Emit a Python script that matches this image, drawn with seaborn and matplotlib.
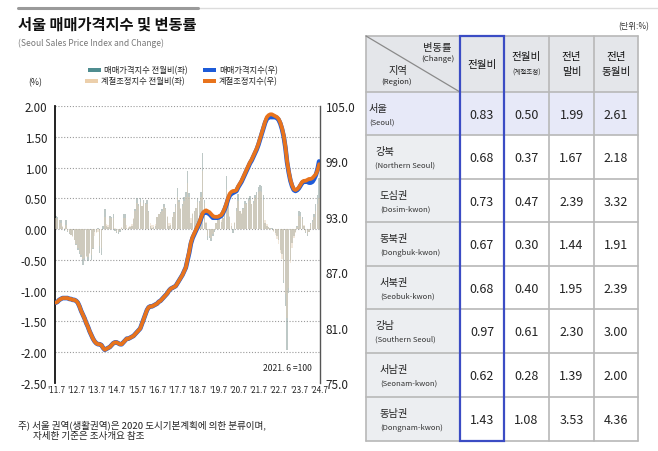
import numpy as np
import pandas as pd
import matplotlib
matplotlib.use("Agg")
import matplotlib.pyplot as plt
import seaborn as sns
from matplotlib.patches import Rectangle
from matplotlib.lines import Line2D

# ---------------- DATA ----------------
months = pd.period_range("2011-07", "2024-07", freq="M").astype(str).tolist()

mom_raw = [0.22, 0.20, 0.15, 0.14, 0.03, -0.03, 0.14, -0.05, -0.08, -0.10, -0.12, -0.18,
           -0.25, -0.34, -0.40, -0.45, -0.58, -0.50, -0.43, -0.52, -0.38, -0.50, -0.32, -0.05,
           -0.04, 0.02, -0.39, -0.42, 0.05, 0.33, 0.05, 0.03, 0.22, 0.20, 0.24, -0.03,
           -0.06, -0.08, -0.04, 0.02, 0.25, 0.24, 0.02, 0.01, 0.03, 0.05, 0.17, 0.33,
           0.50, 0.40, 0.50, 0.38, 0.47, 0.42, 0.47, 0.30, 0.05, 0.02, 0.03, 0.05,
           0.20, 0.25, 0.28, 0.33, 0.41, 0.35, 0.20, 0.05, 0.06, 0.20, 0.28, 0.41,
           0.66, 0.47, 0.33, 0.41, 0.52, 0.60, 0.95, 0.58, 0.10, 0.25, 0.30, 0.35,
           0.50, 0.45, 0.60, 1.24, 0.47, 0.10, -0.18, -0.15, -0.20, -0.12, -0.05, 0.10,
           0.15, 0.20, 0.12, 0.18, 0.35, 0.87, 0.42, 0.20, 0.05, -0.07, 0.10, 0.35,
           0.57, 0.30, 0.25, 0.35, 0.45, 0.42, 0.50, 0.53, 0.40, 0.45, 0.55, 0.60,
           0.68, 0.72, 0.70, 0.55, 0.10, 0.05, 0.03, 0.02, 0.01, -0.03, -0.07, -0.12,
           -0.18, -0.34, -0.40, -0.88, -1.25, -1.96, -1.04, -0.50, -0.23, -0.12, -0.05, 0.05,
           0.30, 0.28, 0.20, 0.05, -0.07, -0.12, -0.05, 0.10, 0.15, 0.25, 0.40, 0.55, 0.83]

mom_sa = [0.18, 0.17, 0.14, 0.10, 0.05, 0.02, 0.06, -0.03, -0.07, -0.10, -0.13, -0.18,
          -0.24, -0.30, -0.36, -0.42, -0.48, -0.47, -0.45, -0.46, -0.40, -0.42, -0.30, -0.12,
          -0.06, -0.05, -0.28, -0.30, 0.00, 0.20, 0.08, 0.06, 0.18, 0.18, 0.18, 0.02,
          -0.04, -0.05, -0.02, 0.04, 0.18, 0.18, 0.06, 0.04, 0.05, 0.08, 0.18, 0.30,
          0.42, 0.38, 0.44, 0.38, 0.42, 0.40, 0.40, 0.28, 0.10, 0.06, 0.06, 0.08,
          0.20, 0.24, 0.26, 0.30, 0.36, 0.32, 0.22, 0.10, 0.10, 0.20, 0.26, 0.36,
          0.52, 0.44, 0.34, 0.38, 0.46, 0.52, 0.75, 0.52, 0.18, 0.26, 0.30, 0.34,
          0.44, 0.42, 0.52, 0.95, 0.42, 0.12, -0.12, -0.12, -0.15, -0.08, -0.02, 0.10,
          0.14, 0.18, 0.14, 0.18, 0.30, 0.65, 0.38, 0.22, 0.10, 0.00, 0.12, 0.30,
          0.45, 0.30, 0.26, 0.32, 0.40, 0.40, 0.45, 0.48, 0.40, 0.42, 0.50, 0.55,
          0.60, 0.62, 0.60, 0.48, 0.15, 0.08, 0.04, 0.02, 0.00, -0.05, -0.10, -0.16,
          -0.24, -0.38, -0.48, -0.82, -1.05, -1.45, -0.95, -0.55, -0.30, -0.15, -0.06, 0.04,
          0.22, 0.22, 0.16, 0.06, -0.04, -0.08, -0.04, 0.08, 0.12, 0.20, 0.30, 0.40, 0.50]

idx_sa = [83.7, 83.8, 84.0, 84.1, 84.2, 84.2, 84.2, 84.2, 84.1, 84.1, 84.0, 84.0,
          83.9, 83.7, 83.3, 82.8, 82.4, 82.0, 81.5, 81.1, 80.6, 80.2, 79.8, 79.5,
          79.3, 79.2, 79.2, 79.1, 78.8, 78.6, 78.7, 78.8, 78.9, 79.1, 79.3, 79.4,
          79.4, 79.3, 79.2, 79.2, 79.4, 79.6, 79.8, 79.8, 79.9, 80.0, 80.1, 80.3,
          80.5, 80.7, 80.9, 81.4, 81.9, 82.4, 82.9, 83.2, 83.3, 83.3, 83.4, 83.5,
          83.6, 83.8, 83.9, 84.1, 84.3, 84.5, 84.7, 85.0, 85.2, 85.3, 85.4, 85.5,
          85.8, 86.1, 86.4, 86.7, 87.1, 87.5, 88.4, 89.2, 90.2, 90.8, 91.2, 91.6,
          92.0, 92.4, 92.9, 93.4, 93.6, 93.7, 93.6, 93.5, 93.3, 93.1, 93.0, 93.0,
          93.0, 93.1, 93.2, 93.5, 93.9, 94.4, 95.0, 95.5, 95.7, 95.8, 95.8, 95.9,
          96.3, 96.6, 96.9, 97.3, 97.7, 98.1, 98.5, 98.9, 99.2, 99.6, 100.0, 100.4,
          100.9, 101.5, 102.1, 102.7, 103.3, 103.8, 104.0, 104.1, 104.1, 104.0, 103.9, 103.8,
          103.6, 103.2, 102.6, 101.8, 100.6, 99.0, 97.9, 97.0, 96.4, 96.0, 95.9, 96.0,
          96.2, 96.5, 96.8, 96.9, 96.9, 97.0, 97.1, 97.1, 97.2, 97.4, 97.6, 98.0, 98.7]

idx_raw = [83.7, 83.8, 84.0, 84.1, 84.2, 84.2, 84.2, 84.2, 84.1, 84.1, 84.0, 84.0,
           83.9, 83.7, 83.3, 82.8, 82.4, 82.0, 81.5, 81.1, 80.6, 80.2, 79.8, 79.5,
           79.3, 79.2, 79.2, 79.1, 78.8, 78.6, 78.7, 78.8, 78.9, 79.1, 79.3, 79.4,
           79.4, 79.3, 79.2, 79.2, 79.4, 79.6, 79.8, 79.8, 79.9, 80.0, 80.1, 80.3,
           80.5, 80.7, 80.9, 81.4, 81.9, 82.4, 82.9, 83.2, 83.3, 83.3, 83.4, 83.5,
           83.6, 83.8, 83.9, 84.1, 84.3, 84.5, 84.7, 85.0, 85.2, 85.3, 85.4, 85.5,
           85.8, 86.1, 86.4, 86.7, 87.1, 87.5, 88.3, 89.1, 90.1, 90.7, 91.1, 91.5,
           91.9, 92.3, 92.8, 93.3, 93.5, 93.5, 93.4, 93.3, 93.1, 92.9, 92.9, 92.9,
           92.9, 93.0, 93.1, 93.4, 93.8, 94.3, 94.9, 95.3, 95.5, 95.6, 95.7, 95.8,
           96.2, 96.5, 96.8, 97.2, 97.6, 98.0, 98.4, 98.8, 99.1, 99.5, 99.9, 100.3,
           100.8, 101.4, 102.0, 102.6, 103.2, 103.6, 103.8, 103.8, 103.8, 103.8, 103.8, 103.7,
           103.5, 103.1, 102.5, 101.7, 100.5, 98.9, 97.8, 96.9, 96.3, 95.9, 95.8, 95.9,
           96.1, 96.4, 96.7, 96.8, 96.8, 96.8, 96.7, 96.7, 96.8, 97.1, 97.5, 98.1, 99.0]

xtick_labels = ["'11.7", "'12.7", "'13.7", "'14.7", "'15.7", "'16.7", "'17.7",
                "'18.7", "'19.7", "'20.7", "'21.7", "'22.7", "'23.7", "'24.7"]

regions_ko = ["서울", "강북", "도심권", "동북권", "서북권", "강남", "서남권", "동남권"]
regions_en = ["(Seoul)", "(Northern Seoul)", "(Dosim-kwon)", "(Dongbuk-kwon)",
              "(Seobuk-kwon)", "(Southern Seoul)", "(Seonam-kwon)", "(Dongnam-kwon)"]
col_mom = [0.83, 0.68, 0.73, 0.67, 0.68, 0.97, 0.62, 1.43]
col_mom_sa = [0.50, 0.37, 0.47, 0.30, 0.40, 0.61, 0.28, 1.08]
col_ytd = [1.99, 1.67, 2.39, 1.44, 1.95, 2.30, 1.39, 3.53]
col_yoy = [2.61, 2.18, 3.32, 1.91, 2.39, 3.00, 2.00, 4.36]

# ---------------- STYLE ----------------
sns.set_theme(style="white")
plt.rcParams["font.family"] = ["Noto Sans CJK KR", "DejaVu Sans"]

W, H = 658, 452
fig = plt.figure(figsize=(W / 100, H / 100), dpi=100)

TEAL = "#4f8d90"
BEIGE = "#eccfab"
BLUE = "#1d5bd8"
ORANGE = "#e8731c"

x0, x1, ytop, ybot = 55, 320, 107, 384
ax = fig.add_axes([x0 / W, (H - ybot) / H, (x1 - x0) / W, (ybot - ytop) / H])

df = pd.DataFrame({"m": np.arange(len(months)), "month": months,
                   "mom_raw": mom_raw, "mom_sa": mom_sa,
                   "idx_raw": idx_raw, "idx_sa": idx_sa})

sns.barplot(data=df, x="m", y="mom_raw", native_scale=True, color="#8fa7a3", alpha=0.6,
            errorbar=None, width=0.85, ax=ax, linewidth=0, zorder=2)
sns.barplot(data=df, x="m", y="mom_sa", native_scale=True, color=BEIGE, alpha=0.45,
            errorbar=None, width=0.85, ax=ax, linewidth=0, zorder=3)

ax.set_xlim(-0.5, len(months) - 0.5)
ax.set_ylim(-2.5, 2.0)
ax.set_yticks(np.arange(-2.5, 2.01, 0.5))
ax.set_yticklabels([f"{v:.2f}" for v in np.arange(-2.5, 2.01, 0.5)], fontsize=8.3, color="#222")
ax.set_xticks(np.arange(0, len(months), 12))
ax.set_xticklabels(xtick_labels, fontsize=5.8, color="#222")
ax.tick_params(axis="both", length=0)
ax.tick_params(axis="y", pad=5.5)
ax.tick_params(axis="x", pad=1.5)
ax.set_xlabel("")
ax.set_ylabel("")
ax.yaxis.grid(True, linestyle=(0, (1, 1.6)), color="#9a9a9a", linewidth=0.8)
ax.set_axisbelow(True)
for s in ["top", "bottom", "right"]:
    ax.spines[s].set_visible(False)
ax.spines["left"].set_color("#111")
ax.spines["left"].set_linewidth(1.3)

ax2 = ax.twinx()
sns.lineplot(data=df, x="m", y="idx_raw", color=BLUE, linewidth=3.3, ax=ax2,
             solid_capstyle="round")
sns.lineplot(data=df, x="m", y="idx_sa", color=ORANGE, linewidth=2.7, ax=ax2,
             solid_capstyle="round")
ax2.set_ylim(75, 105)
ax2.set_yticks(np.arange(75, 105.1, 6))
ax2.set_yticklabels([f"{v:.1f}" for v in np.arange(75, 105.1, 6)], fontsize=8.5, color="#222")
ax2.tick_params(axis="y", length=0, pad=4)
ax2.set_ylabel("")
ax2.grid(False)
for s in ["top", "bottom", "left"]:
    ax2.spines[s].set_visible(False)
ax2.spines["right"].set_color("#555")
ax2.spines["right"].set_linewidth(1.0)
ax.set_xlim(-0.5, len(months) - 0.5)

ax2.text(0.97, 0.055, "2021. 6 =100", transform=ax.transAxes, ha="right", va="center",
         fontsize=6.2, color="#222")

# ---------------- OVERLAY (texts, legend, table) ----------------
ov = fig.add_axes([0, 0, 1, 1], zorder=10)
ov.set_xlim(0, W)
ov.set_ylim(H, 0)
ov.axis("off")
ov.patch.set_visible(False)

ov.add_line(Line2D([18, 658], [8.5, 8.5], color="#dcdcdc", lw=1.0))
ov.add_line(Line2D([18, 198], [8.5, 8.5], color="#9a9a9a", lw=2.2))
ov.text(18, 25, "서울 매매가격지수 및 변동률", fontsize=11, fontweight="bold",
        ha="left", va="center", color="#111")
ov.text(18, 43, "(Seoul Sales Price Index and Change)", fontsize=6.1, ha="left",
        va="center", color="#777")
ov.text(649, 27, "(단위:%)", fontsize=6, ha="right", va="center", color="#333")
ov.text(28, 83, "(%)", fontsize=6.3, ha="left", va="center", color="#222")

leg = [(88, 71, TEAL, "매매가격지수 전월비(좌)"), (203, 71, BLUE, "매매가격지수(우)"),
       (85, 82, BEIGE, "계절조정지수 전월비(좌)"), (203, 82, ORANGE, "계절조정지수(우)")]
for lx, ly, c, t in leg:
    ov.add_patch(Rectangle((lx, ly - 2), 13, 4, color=c, lw=0))
    ov.text(lx + 16, ly, t, fontsize=6, ha="left", va="center", color="#222")

ov.text(18, 425, "주) 서울 권역(생활권역)은 2020 도시기본계획에 의한 분류이며,",
        fontsize=6.9, ha="left", va="center", color="#222")
ov.text(33, 437, "자세한 기준은 조사개요 참조", fontsize=6.9, ha="left", va="center", color="#222")

# table
tx = [366, 460, 504, 549, 594, 638]
ty0, ty1 = 37, 93
row_edges = [93, 136, 180, 223, 267, 310, 354, 398, 442]
grid_c = "#b8b8b8"

ov.add_patch(Rectangle((tx[0], ty0), tx[-1] - tx[0], ty1 - ty0, color="#e4e6ea", lw=0))
ov.add_patch(Rectangle((tx[0], ty1), tx[1] - tx[0], row_edges[-1] - ty1, color="#eceef1", lw=0))
ov.add_patch(Rectangle((tx[0], row_edges[0]), tx[-1] - tx[0], row_edges[1] - row_edges[0],
                       color="#e7e9f8", lw=0))

for y in [ty0] + row_edges:
    ov.add_line(Line2D([tx[0], tx[-1]], [y, y], color=grid_c, lw=1.2))
for x in tx:
    ov.add_line(Line2D([x, x], [ty0, row_edges[-1]], color=grid_c, lw=1.2))
ov.add_line(Line2D([tx[0], tx[1]], [ty0, ty1], color="#8a8a8a", lw=0.9))
ov.add_patch(Rectangle((tx[1], ty0), tx[2] - tx[1], row_edges[-1] - ty0, fill=False,
                       edgecolor="#3b4cc4", lw=1.6, zorder=5))

ov.text(452, 48, "변동률", fontsize=7.4, ha="right", va="center", color="#222")
ov.text(454, 59, "(Change)", fontsize=5.6, ha="right", va="center", color="#222")
ov.text(388, 71, "지역", fontsize=7.4, ha="left", va="center", color="#222")
ov.text(381, 82, "(Region)", fontsize=5.6, ha="left", va="center", color="#222")

cx = [(tx[i] + tx[i + 1]) / 2 for i in range(1, 5)]
ov.text(cx[0], 65, "전월비", fontsize=7.6, ha="center", va="center", color="#111")
ov.text(cx[1], 57, "전월비", fontsize=7.6, ha="center", va="center", color="#111")
ov.text(cx[1], 73, "(계절조정)", fontsize=4.7, ha="center", va="center", color="#222")
ov.text(cx[2], 57, "전년", fontsize=7.6, ha="center", va="center", color="#111")
ov.text(cx[2], 72, "말비", fontsize=7.6, ha="center", va="center", color="#111")
ov.text(cx[3], 57, "전년", fontsize=7.6, ha="center", va="center", color="#111")
ov.text(cx[3], 72, "동월비", fontsize=7.6, ha="center", va="center", color="#111")

label_x = [369, 375, 380, 380, 380, 375, 380, 380]
cols = [col_mom, col_mom_sa, col_ytd, col_yoy]
for i in range(len(regions_ko)):
    top, bot = row_edges[i], row_edges[i + 1]
    ov.text(label_x[i], top + 16, regions_ko[i], fontsize=7.4, ha="left", va="center", color="#222")
    ov.text(label_x[i], top + 30, regions_en[i], fontsize=5.5, ha="left", va="center", color="#333")
    for j, col in enumerate(cols):
        ov.text(cx[j], (top + bot) / 2 + 1, f"{col[i]:.2f}", fontsize=9, ha="center",
                va="center", color="#222")

fig.savefig("out.png", dpi=100)
